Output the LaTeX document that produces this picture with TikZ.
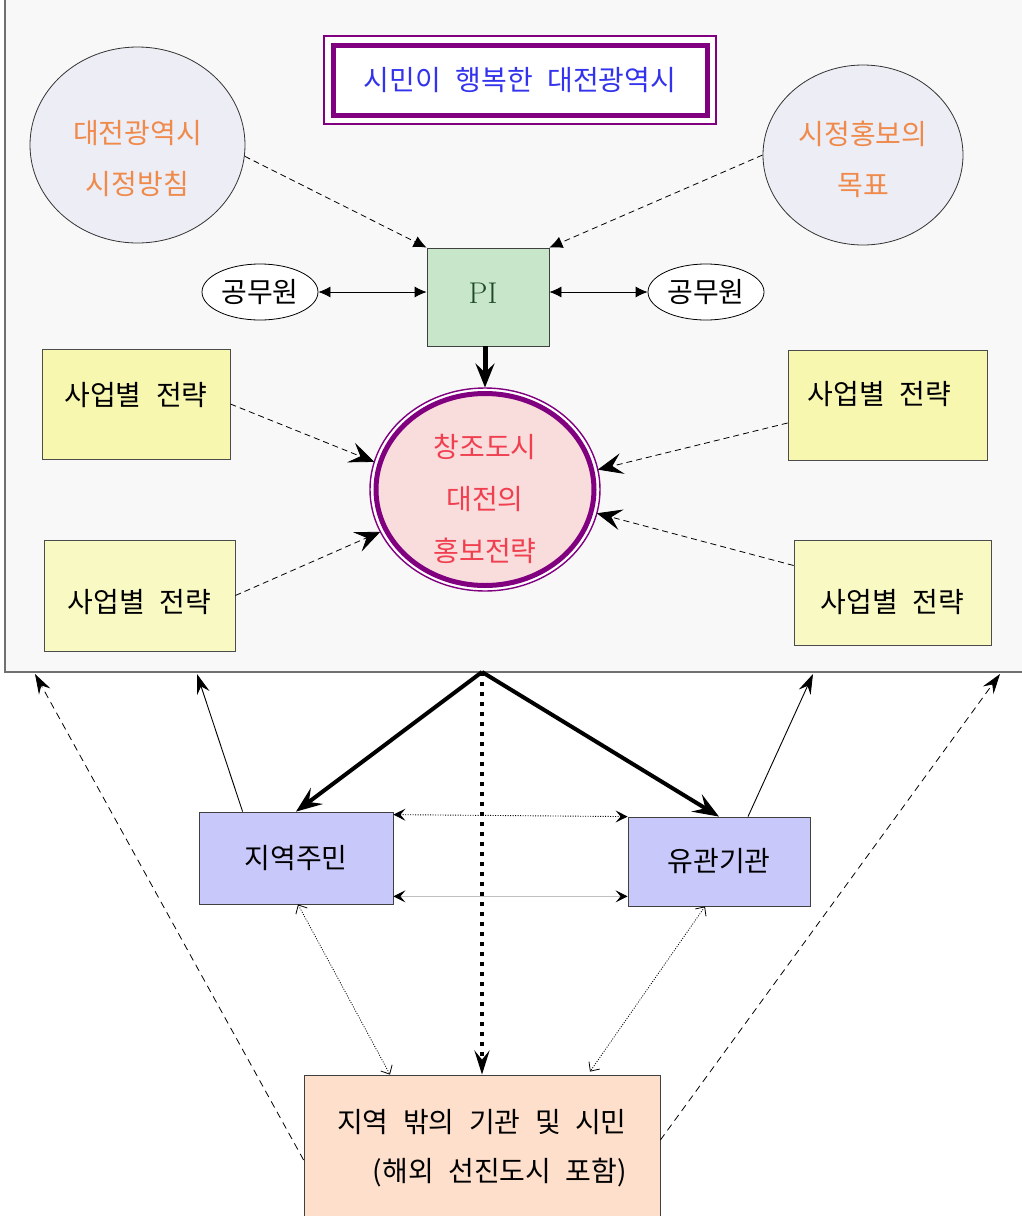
\documentclass[tikz,border=0pt]{standalone}
\usepackage{fontspec}
\newfontfamily\kr[WordSpace=2.3]{Noto Sans CJK KR}
\usetikzlibrary{arrows.meta,shapes.geometric,calc}
\definecolor{framefill}{HTML}{F8F8F8}
\definecolor{framedraw}{HTML}{707070}
\definecolor{tpurple}{HTML}{800080}
\definecolor{tblue}{HTML}{3333EE}
\definecolor{circfill}{HTML}{EDEDF5}
\definecolor{orangetxt}{HTML}{F08A4B}
\definecolor{pigreen}{HTML}{C8E6C9}
\definecolor{pitext}{HTML}{1F4A2A}
\definecolor{pinkfill}{HTML}{F9DCDC}
\definecolor{redtxt}{HTML}{F04050}
\definecolor{yelA}{HTML}{F7F7B0}
\definecolor{yelB}{HTML}{F9F9C4}
\definecolor{bluefill}{HTML}{C8C8FA}
\definecolor{peach}{HTML}{FDDFCB}
\definecolor{lgray}{HTML}{C0C0C0}
\begin{document}
\begin{tikzpicture}[x=1pt,y=-1pt,
  kr/.style={font=\kr\fontsize{28}{32}\selectfont},
  circ/.style={ellipse, draw=black!80, line width=0.8pt, fill=circfill, inner sep=0pt},
  oval/.style={ellipse, draw=black, line width=0.8pt, fill=white, inner sep=0pt, minimum width=116pt, minimum height=56pt, kr},
  ybox/.style={rectangle, draw=black!70, line width=0.8pt, inner sep=0pt},
  bbox/.style={rectangle, draw=black!75, line width=0.8pt, fill=bluefill, inner sep=0pt, kr},
  dasharr/.style={dash pattern=on 6pt off 4pt, line width=0.8pt, -{Latex[length=13pt,width=12pt]}},
  dashbig/.style={dash pattern=on 6pt off 4pt, line width=0.8pt, -{Stealth[length=25pt,width=21pt,inset=10pt]}},
  twoway/.style={line width=0.8pt, {Latex[length=12pt,width=11pt]}-{Latex[length=12pt,width=11pt]}},
  thickarr/.style={line width=4pt, -{Stealth[length=26pt,width=20pt,inset=10pt]}},
  thinarr/.style={line width=0.9pt, -{Stealth[length=20pt,width=13pt,inset=7pt]}},
  longdash/.style={dash pattern=on 7pt off 5pt, line width=0.8pt, -{Stealth[length=20pt,width=13pt,inset=7pt]}},
  hdot/.style={line width=0.9pt, dash pattern=on 1pt off 1.5pt, {Stealth[length=12pt,width=12pt,inset=5pt]}-{Stealth[length=12pt,width=12pt,inset=5pt]}},
  hgray/.style={line width=0.9pt, draw=lgray, {Stealth[length=12pt,width=12pt,inset=5pt,black]}-{Stealth[length=12pt,width=12pt,inset=5pt,black]}},
  ddot/.style={line width=0.8pt, dash pattern=on 1pt off 1.5pt, {Straight Barb[length=7pt,width=13pt]}-{Straight Barb[length=7pt,width=13pt]}}
]
\useasboundingbox (0,0) rectangle (1022,1216);

% outer frame
\node[rectangle, draw=framedraw, fill=framefill, line width=1.5pt, minimum width=1025pt, minimum height=677pt, inner sep=0pt, outer sep=0pt] (frame) at (517.5,333.5) {};

% title
\draw[tpurple, line width=1.4pt, fill=white] (324,36) rectangle (716,124);
\node[rectangle, draw=tpurple, line width=5pt, fill=white, minimum width=374pt, minimum height=70pt, outer sep=0pt, kr, text=tblue] (title) at (520,80) {시민이 행복한 대전광역시};

% circles
\node[circ, minimum width=215pt, minimum height=196pt,
  label={[align=center, text=orangetxt, font=\kr\fontsize{28}{51}\selectfont, yshift=-14pt]center:대전광역시\\시정방침}] (lc) at (137.5,145) {};
\node[circ, minimum width=200pt, minimum height=180pt,
  label={[align=center, text=orangetxt, font=\kr\fontsize{28}{51}\selectfont, yshift=-4pt]center:시정홍보의\\목표}] (rc) at (863,155) {};

% PI
\node[rectangle, draw=black!75, line width=0.8pt, fill=pigreen, minimum width=122pt, minimum height=98pt, inner sep=0pt, text=pitext, font=\fontsize{30}{32}\selectfont,
  label={[text=pitext, font=\fontsize{30}{32}\selectfont, xshift=-5pt, yshift=4pt]center:PI}] (pi) at (488,297) {};

% officials
\node[oval] (lg) at (260,292) {공무원};
\node[oval] (rg) at (706,292) {공무원};

% center ellipse
\draw[tpurple, line width=1.4pt, fill=white] (485,489.5) ellipse [x radius=115pt, y radius=101.5pt];
\node[ellipse, draw=tpurple, line width=5pt, fill=pinkfill, minimum width=218pt, minimum height=192pt, inner sep=0pt, outer sep=6pt,
  label={[align=center, text=redtxt, font=\kr\fontsize{28}{52}\selectfont, yshift=-9pt]center:창조도시\\대전의\\홍보전략}] (ce) at (485,489.5) {};

% strategy boxes
\node[ybox, fill=yelA, minimum width=188pt, minimum height=110pt, label={[kr, yshift=9pt]center:사업별 전략}] (tl) at (136,404) {};
\node[ybox, fill=yelB, minimum width=191pt, minimum height=111pt, label={[kr, yshift=-7pt]center:사업별 전략}] (bl) at (139.5,595.5) {};
\node[ybox, fill=yelA, minimum width=199pt, minimum height=110pt, label={[kr, yshift=11pt, xshift=-8pt]center:사업별 전략}] (tr) at (887.5,405) {};
\node[ybox, fill=yelB, minimum width=197pt, minimum height=105pt, label={[kr, yshift=-10pt]center:사업별 전략}] (br) at (892.5,592.5) {};

% lower boxes
\node[bbox, minimum width=194pt, minimum height=92pt] (jm) at (296,858) {지역주민};
\node[bbox, minimum width=182pt, minimum height=89pt] (yg) at (719,861.5) {유관기관};
\node[rectangle, draw=black!75, line width=0.8pt, fill=peach, minimum width=356pt, minimum height=150pt, inner sep=0pt,
  label={[align=right, font=\kr\fontsize{28}{49}\selectfont, yshift=2pt]center:지역 밖의 기관 및 시민\\(해외 선진도시 포함)}] (bb) at (482,1150) {};

% coordinates on the frame bottom
\coordinate (fb) at (482,672);
\coordinate (f1) at (35,674);
\coordinate (f2) at (197,674);
\coordinate (f3) at (813,674);
\coordinate (f4) at (1000,674);

% top connectors
\draw[dasharr] (lc.-6) -- (pi.north west);
\draw[dasharr] (rc.west) -- (pi.north east);
\draw[twoway] (lg.east) -- (lg.east -| pi.west);
\draw[twoway] (rg.west -| pi.east) -- (rg.west);
\draw[line width=5pt, -{Stealth[length=24pt,width=19pt,inset=9pt]}] (ce.north |- pi.south) -- (ce.north);
\draw[dashbig] (tl.east) -- (ce.166);
\draw[dashbig] (bl.east) -- (ce.202);
\draw[dashbig] ($(tr.west)+(0,18)$) -- (ce.10);
\draw[dashbig] ($(br.west)+(0,-27)$) -- (ce.-12);

% bottom connectors
\draw[thickarr] (fb) -- (jm.north);
\draw[thickarr] (fb) -- (yg.north);
\draw[line width=4.5pt, dash pattern=on 4pt off 6pt, -{Stealth[length=24pt,width=15pt,inset=9pt]}] (fb) -- (bb.north);
\draw[hdot] ([yshift=-3pt]jm.north east) -- (yg.north west);
\draw[hgray] ([yshift=8pt]jm.south east) -- ([yshift=10pt]yg.south west);
\draw[thinarr] ([xshift=44pt]jm.north west) -- (f2);
\draw[thinarr] ([xshift=29pt]yg.north) -- (f3);
\draw[longdash] ([yshift=-10pt]bb.north west |- bb.west) -- (f1);
\draw[longdash] ([yshift=10pt]bb.east) -- (f4);
\draw[ddot] ([xshift=2pt]jm.south) -- ([xshift=-92pt]bb.north);
\draw[ddot] ([xshift=-14pt]yg.south) -- ([xshift=108pt,yshift=3pt]bb.north);
\end{tikzpicture}
\end{document}
